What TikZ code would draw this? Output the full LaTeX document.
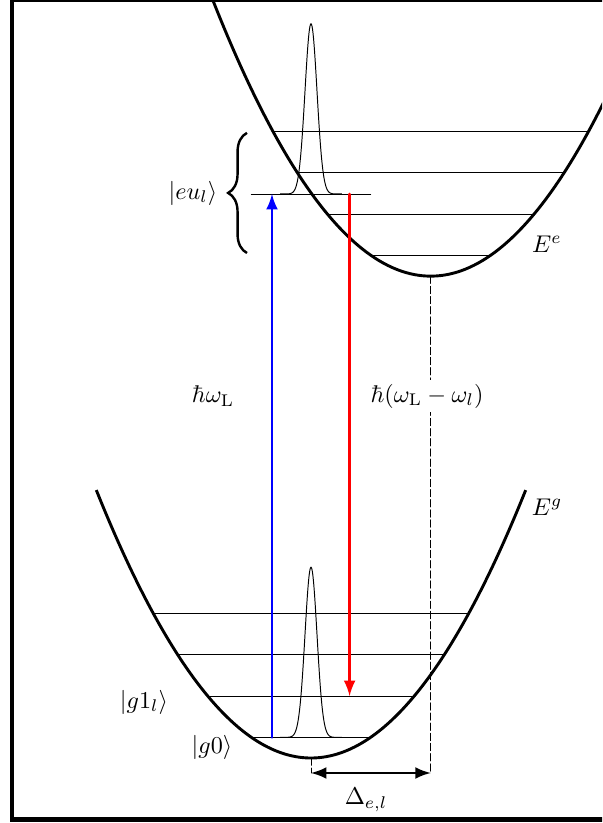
\documentclass[tikz,border=0pt]{standalone}
\usetikzlibrary{arrows,calc,decorations.pathreplacing}
\usepackage{tkz-euclide}
\definecolor{PumpClr}{rgb}{0,0,1}
\definecolor{StokesClr}{rgb}{1,0,0}

\begin{document}
\begin{tikzpicture}[scale=.6]
\useasboundingbox (-7.532,-1.574) rectangle (7.048,18.358);
\clip (-7.532,-1.574) rectangle (7.048,18.358);
\tkzSetUpLine[line width=.4pt,color=black]

\tkzDefPoints{-.945/.5/A,-.945/13.66/AA,.935/13.66/B,.935/1.5/BB,0/0/O,0/-.363/C,2.9/11.67/OO,2.9/-.363/CC,-1.443/13.66/P,1.443/13.66/PP}

% potentials
\draw[line width=1.2pt] plot[domain=-5.2:5.2,samples=80,smooth] (\x,{.24*\x*\x});
\draw[line width=1.2pt] plot[domain=-2.45:8.2,samples=80,smooth] (\x,{11.67+.24*(\x-2.9)*(\x-2.9)});

% levels
\foreach \n in {0,...,3}{
  \pgfmathsetmacro{\w}{sqrt((\n+.5)/.24)}
  \draw[line width=.4pt] (-\w,\n+.5) -- (\w,\n+.5);
  \draw[line width=.4pt] (2.9-\w,11.67+\n+.5) -- (2.9+\w,11.67+\n+.5);
}

% wave packets
\tkzDrawSegments[line width=.4pt](P,PP)
\draw[line width=.4pt] plot[domain=-.75:.75,samples=121,smooth] (\x,{.5+4.12*exp(-23.8*\x*\x)});
\draw[line width=.4pt] plot[domain=-.75:.75,samples=121,smooth] (\x,{13.66+4.12*exp(-23.8*\x*\x)});

\tkzDrawSegments[dash pattern=on 3pt off 1.2pt,line width=.4pt](O,C OO,CC)
\tkzDrawSegments[color=PumpClr,line width=1.2pt,-latex](A,AA)
\tkzDrawSegments[color=StokesClr,line width=1.2pt,-latex](B,BB)
\tkzDrawSegments[line width=1.2pt,latex-latex](C,CC)

\draw[decorate,decoration={brace,amplitude=7.8pt},line width=1pt] (-1.55,12.23) -- (-1.55,15.14);

\node (hwL) at (-2.373,8.767) {$\hbar\omega_{\mathrm{L}}$};
\node[fill=white,inner sep=1.5pt] (hwS) at (2.81,8.767) {$\hbar(\omega_{\mathrm{L}}-\omega_l)$};
\node (Ee) at (5.716,12.45) {$E^e$};
\node (Eg) at (5.716,6.08) {$E^g$};
\node (eul) at (-2.858,13.68) {$|eu_l\rangle$};
\node (g1l) at (-4.045,1.356) {$|g1_l\rangle$};
\node (g0) at (-2.398,.266) {$|g0\rangle$};
\node (Del) at (1.332,-1.017) {$\Delta_{e,l}$};

\draw[line width=1.85pt] (-7.24,-1.489) rectangle (7.8,18.36);

\end{tikzpicture}
\end{document}
